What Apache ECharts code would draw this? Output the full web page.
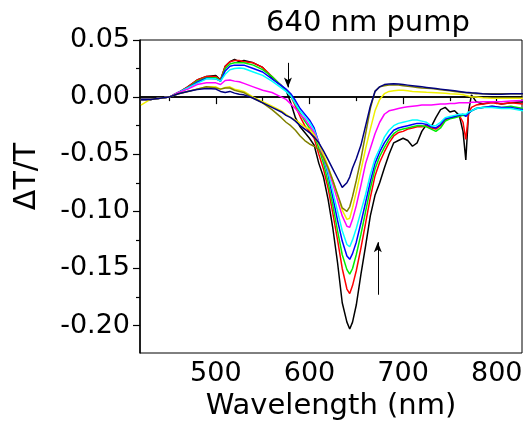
<!DOCTYPE html>
<html>
<head>
<meta charset="utf-8">
<style>html,body{margin:0;padding:0;background:#fff;}#c{width:527px;height:421px;}</style>
<script src="https://cdn.jsdelivr.net/npm/echarts@6/dist/echarts.min.js"></script>
</head>
<body>
<div id="c"></div>
<script>
const wavelengths = [420,430,440,450,460,470,480,490,500,505,510,515,520,525,530,540,550,560,570,575,580,585,590,595,600,605,610,615,620,625,630,635,640,643,646,650,655,660,665,670,675,680,685,690,695,700,705,710,715,720,725,730,735,740,745,750,755,760,764,767,770,773,778,785,795,805,815,828];

const blackVals = [-0.002,-0.002,-0.001,0.000,0.004,0.009,0.015,0.018,0.019,0.015,0.027,0.031,0.033,0.031,0.032,0.030,0.026,0.017,0.010,0.006,-0.005,-0.018,-0.026,-0.031,-0.036,-0.042,-0.058,-0.070,-0.090,-0.115,-0.145,-0.180,-0.197,-0.203,-0.197,-0.182,-0.155,-0.130,-0.104,-0.086,-0.075,-0.062,-0.050,-0.040,-0.038,-0.036,-0.038,-0.043,-0.040,-0.030,-0.024,-0.026,-0.018,-0.011,-0.009,-0.013,-0.012,-0.016,-0.030,-0.055,-0.012,0.002,-0.004,-0.006,-0.004,-0.006,-0.005,-0.004];
const redVals = [-0.002,-0.002,-0.001,0.000,0.004,0.009,0.015,0.018,0.018,0.015,0.027,0.031,0.032,0.032,0.031,0.030,0.026,0.018,0.010,0.006,0.001,-0.008,-0.017,-0.025,-0.030,-0.036,-0.050,-0.063,-0.080,-0.102,-0.125,-0.150,-0.168,-0.172,-0.165,-0.152,-0.132,-0.110,-0.088,-0.069,-0.057,-0.048,-0.040,-0.034,-0.031,-0.030,-0.028,-0.027,-0.026,-0.026,-0.025,-0.027,-0.028,-0.025,-0.020,-0.018,-0.017,-0.016,-0.022,-0.037,-0.014,-0.009,-0.007,-0.006,-0.005,-0.006,-0.005,-0.006];
const greenVals = [-0.002,-0.002,-0.001,0.000,0.004,0.008,0.014,0.017,0.017,0.014,0.025,0.029,0.030,0.030,0.030,0.028,0.024,0.018,0.010,0.006,0.002,-0.006,-0.014,-0.021,-0.027,-0.033,-0.045,-0.058,-0.075,-0.095,-0.117,-0.138,-0.151,-0.155,-0.150,-0.138,-0.120,-0.100,-0.080,-0.063,-0.052,-0.044,-0.037,-0.032,-0.029,-0.028,-0.027,-0.026,-0.025,-0.025,-0.026,-0.028,-0.030,-0.027,-0.021,-0.019,-0.018,-0.017,-0.016,-0.016,-0.014,-0.012,-0.010,-0.009,-0.008,-0.009,-0.008,-0.010];
const blueVals = [-0.002,-0.002,-0.001,0.000,0.004,0.008,0.013,0.0165,0.016,0.014,0.023,0.027,0.028,0.028,0.028,0.025,0.022,0.016,0.010,0.007,0.003,-0.003,-0.010,-0.015,-0.020,-0.027,-0.040,-0.053,-0.068,-0.088,-0.108,-0.126,-0.139,-0.142,-0.137,-0.127,-0.110,-0.092,-0.074,-0.058,-0.048,-0.040,-0.034,-0.029,-0.027,-0.026,-0.025,-0.024,-0.023,-0.023,-0.024,-0.026,-0.027,-0.024,-0.019,-0.018,-0.017,-0.016,-0.015,-0.017,-0.014,-0.012,-0.010,-0.009,-0.008,-0.009,-0.009,-0.011];
const cyanVals = [-0.002,-0.002,-0.001,0.000,0.004,0.008,0.012,0.016,0.016,0.014,0.020,0.024,0.025,0.0255,0.025,0.022,0.019,0.014,0.008,0.005,0.001,-0.006,-0.012,-0.017,-0.022,-0.029,-0.040,-0.052,-0.066,-0.083,-0.100,-0.117,-0.129,-0.131,-0.125,-0.115,-0.100,-0.085,-0.068,-0.054,-0.045,-0.035,-0.029,-0.025,-0.023,-0.022,-0.021,-0.020,-0.020,-0.021,-0.022,-0.025,-0.025,-0.022,-0.018,-0.017,-0.016,-0.015,-0.015,-0.015,-0.013,-0.012,-0.010,-0.009,-0.009,-0.010,-0.010,-0.012];
const magentaVals = [-0.002,-0.002,-0.001,0.000,0.004,0.007,0.011,0.0125,0.0125,0.011,0.0145,0.015,0.014,0.0135,0.012,0.009,0.006,0.004,0.000,-0.002,-0.006,-0.010,-0.015,-0.019,-0.025,-0.031,-0.040,-0.052,-0.063,-0.076,-0.090,-0.104,-0.113,-0.114,-0.107,-0.095,-0.077,-0.058,-0.045,-0.032,-0.022,-0.015,-0.012,-0.011,-0.010,-0.009,-0.0085,-0.008,-0.0075,-0.007,-0.007,-0.007,-0.0065,-0.006,-0.006,-0.0055,-0.0055,-0.005,-0.005,-0.005,-0.005,-0.0045,-0.0045,-0.004,-0.004,-0.004,-0.0035,-0.003];
const yellowVals = [-0.007,-0.002,-0.001,0.000,0.003,0.005,0.007,0.009,0.009,0.007,0.0085,0.009,0.007,0.006,0.005,0.000,-0.004,-0.008,-0.012,-0.015,-0.018,-0.020,-0.023,-0.026,-0.028,-0.033,-0.041,-0.050,-0.061,-0.073,-0.086,-0.099,-0.107,-0.106,-0.097,-0.083,-0.064,-0.045,-0.028,-0.012,-0.002,0.003,0.005,0.0055,0.006,0.006,0.0055,0.005,0.0048,0.0045,0.0042,0.004,0.0038,0.0036,0.0034,0.003,0.0028,0.0025,0.002,0.0015,0.001,0.000,0.000,-0.0005,-0.001,-0.001,-0.001,-0.001];
const oliveVals = [-0.002,-0.002,-0.001,0.000,0.003,0.005,0.007,0.009,0.008,0.007,0.008,0.008,0.006,0.005,0.004,-0.001,-0.005,-0.011,-0.018,-0.022,-0.025,-0.029,-0.034,-0.038,-0.041,-0.043,-0.046,-0.053,-0.062,-0.073,-0.085,-0.097,-0.100,-0.096,-0.087,-0.073,-0.054,-0.032,-0.010,0.005,0.009,0.010,0.0105,0.0105,0.0105,0.010,0.0095,0.009,0.0085,0.008,0.0078,0.0075,0.007,0.0065,0.006,0.0055,0.005,0.0045,0.004,0.004,0.0035,0.0035,0.003,0.003,0.003,0.003,0.003,0.003];
const navyVals = [-0.002,-0.002,-0.001,0.000,0.003,0.005,0.0067,0.0076,0.007,0.005,0.004,0.005,0.0035,0.0025,0.002,-0.001,-0.005,-0.009,-0.013,-0.016,-0.018,-0.021,-0.025,-0.028,-0.031,-0.035,-0.040,-0.047,-0.055,-0.063,-0.071,-0.079,-0.075,-0.070,-0.062,-0.054,-0.042,-0.025,-0.008,0.005,0.009,0.011,0.0115,0.0117,0.0115,0.011,0.0105,0.010,0.0095,0.009,0.0085,0.008,0.0075,0.007,0.0065,0.006,0.0055,0.005,0.0045,0.004,0.004,0.0038,0.0035,0.003,0.0025,0.0025,0.003,0.003];

const seriesNames = ['s1','s2','s3','s4','s5','s6','s7','s8','s9'];
const seriesColors = ['#000000','#ff0000','#00ee00','#0000ff','#00ffff','#ff00ff','#f0f000','#808000','#000080'];
const seriesValues = [blackVals,redVals,greenVals,blueVals,cyanVals,magentaVals,yellowVals,oliveVals,navyVals];

const xMajorTicks = [500,600,700,800];
const xMinorTicks = [450,550,650,750];
const yMajorTicks = [-0.2,-0.15,-0.1,-0.05,0,0.05];
const yMinorTicks = [-0.175,-0.125,-0.075,-0.025,0.025];
const arrowDown = [[577,0.030],[577,0.0085]];
const arrowUp = [[673,-0.173],[673,-0.127]];

const FONT = 'DejaVu Sans';
const series = seriesValues.map((vals, i) => ({
  name: seriesNames[i],
  type: 'line',
  showSymbol: false,
  symbol: 'none',
  data: wavelengths.map((w, j) => [w, vals[j]]),
  lineStyle: { color: seriesColors[i], width: 1.5 },
  itemStyle: { color: seriesColors[i] },
  z: 2 + i
}));
series.push({
  type: 'line', data: [], z: 20,
  markLine: {
    silent: true, symbol: 'none', label: { show: false },
    lineStyle: { color: '#000', width: 1.5, type: 'solid' },
    data: [{ yAxis: 0 }]
  }
});
series.push({
  type: 'line', data: [], z: 21,
  markLine: {
    silent: true, symbol: ['none', 'arrow'], symbolSize: [6, 10], label: { show: false },
    lineStyle: { color: '#000', width: 1, type: 'solid' },
    data: [
      [{ coord: arrowDown[0] }, { coord: arrowDown[1] }],
      [{ coord: arrowUp[0] }, { coord: arrowUp[1] }]
    ]
  }
});

const chart = echarts.init(document.getElementById('c'), null, { renderer: 'canvas' });
chart.setOption({
  animation: false,
  backgroundColor: '#fff',
  title: {
    text: '640 nm pump', left: 261, top: 4,
    textStyle: { fontFamily: FONT, fontSize: 29, fontWeight: 'normal', color: '#000' }
  },
  grid: { left: 140, right: 5, top: 40, bottom: 68, show: true, borderColor: '#000', borderWidth: 1, backgroundColor: 'transparent', containLabel: false, outerBoundsMode: 'none' },
  xAxis: [{
    type: 'value', min: 419, max: 827, position: 'bottom',
    name: 'Wavelength (nm)', nameLocation: 'middle', nameGap: 33,
    nameTextStyle: { fontFamily: FONT, fontSize: 29, color: '#000' },
    axisLine: { show: true, lineStyle: { color: '#000', width: 1.5 } },
    axisTick: { show: true, inside: false, length: 7, customValues: xMajorTicks, lineStyle: { color: '#000', width: 1.2 } },
    axisLabel: { show: true, customValues: xMajorTicks, margin: 7, fontFamily: FONT, fontSize: 27, color: '#000' },
    splitLine: { show: false }
  }, {
    type: 'value', min: 419, max: 827, position: 'bottom', gridIndex: 0,
    axisLine: { show: false },
    axisTick: { show: true, length: 4, customValues: xMinorTicks, lineStyle: { color: '#000', width: 1.2 } },
    axisLabel: { show: false, customValues: xMinorTicks },
    splitLine: { show: false }
  }],
  yAxis: [{
    type: 'value', min: -0.224, max: 0.05, position: 'left',
    name: 'ΔT/T', nameLocation: 'middle', nameGap: 98,
    nameTextStyle: { fontFamily: FONT, fontSize: 30, color: '#000', padding: [0, 0, 0, 40] },
    axisLine: { show: true, lineStyle: { color: '#000', width: 1.5 } },
    axisTick: { show: true, length: 7, customValues: yMajorTicks, lineStyle: { color: '#000', width: 1.2 } },
    axisLabel: { show: true, customValues: yMajorTicks, margin: 10, fontFamily: FONT, fontSize: 27, color: '#000',
      formatter: v => v.toFixed(2) },
    splitLine: { show: false }
  }, {
    type: 'value', min: -0.224, max: 0.05, position: 'left', gridIndex: 0,
    axisLine: { show: false },
    axisTick: { show: true, length: 4, customValues: yMinorTicks, lineStyle: { color: '#000', width: 1.2 } },
    axisLabel: { show: false, customValues: yMinorTicks },
    splitLine: { show: false }
  }],
  series: series
});
</script>
</body>
</html>
